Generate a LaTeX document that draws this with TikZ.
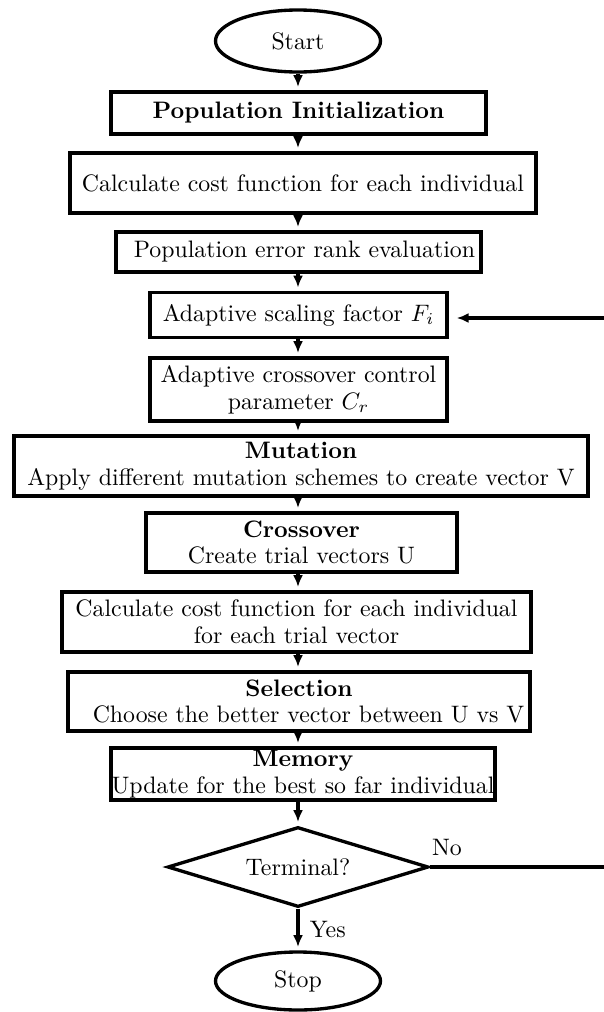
\documentclass[tikz,border=0pt]{standalone}
\usetikzlibrary{shapes.geometric,arrows.meta}

\begin{document}
\begin{tikzpicture}[
  x=0.42pt, y=-0.42pt,
  every node/.style={font=\fontsize{10}{11.2}\selectfont},
  procbox/.style={draw, line width=1.4pt, rectangle, inner sep=0pt, align=center},
  termnode/.style={draw, line width=1.4pt, ellipse, inner sep=0pt},
  decnode/.style={draw, line width=1.4pt, diamond, inner sep=0pt, aspect=3.26},
  arr/.style={line width=1.3pt, -{Latex[length=5pt,width=4.2pt]}, shorten >=1.4pt},
  plain/.style={line width=1.3pt}
]
\useasboundingbox (0,0) rectangle (604,1012);

% flow axis
\coordinate (axis) at (298,0);

% terminals, process boxes and the decision
\node[termnode, minimum width={165*0.42pt}, minimum height={62*0.42pt}] (start) at (298,41) {Start};
\node[procbox, minimum width={375*0.42pt}, minimum height={42*0.42pt}] (init) at (298.5,113) {\bfseries Population Initialization};
\node[procbox, minimum width={466*0.42pt}, minimum height={60*0.42pt}] (cost) at (303,183) {Calculate cost function for each individual};
\node[procbox, minimum width={365*0.42pt}, minimum height={40*0.42pt}] (rank) at (298.5,252) {\hspace*{5pt}Population error rank evaluation};
\node[procbox, minimum width={297*0.42pt}, minimum height={45*0.42pt}] (scale) at (298.5,315) {Adaptive scaling factor $F_i$};
\node[procbox, minimum width={297*0.42pt}, minimum height={63*0.42pt}] (crctl) at (298.5,389.5) {Adaptive crossover control\\parameter $C_r$};
\node[procbox, minimum width={574*0.42pt}, minimum height={60*0.42pt}] (mut) at (301,466) {\bfseries Mutation\\Apply different mutation schemes to create vector V};
\node[procbox, minimum width={311*0.42pt}, minimum height={59*0.42pt}] (cross) at (301.5,542.5) {\bfseries Crossover\\Create trial vectors U};
\node[procbox, minimum width={469*0.42pt}, minimum height={60*0.42pt}] (trial) at (296.5,622) {Calculate cost function for each individual\\for each trial vector};
\node[procbox, minimum width={462*0.42pt}, minimum height={59*0.42pt}] (sel) at (299,701.5) {\bfseries Selection\\\hspace*{8pt}Choose the better vector between U vs V};
\node[procbox, minimum width={384*0.42pt}, minimum height={52*0.42pt}] (mem) at (303,774) {\bfseries Memory\\Update for the best so far individual};
\node[decnode, minimum width={261*0.42pt}, minimum height={80*0.42pt}] (dec) at (298,867) {Terminal?};
\node[termnode, minimum width={165*0.42pt}, minimum height={58*0.42pt}] (stop) at (298,981) {Stop};

% main flow
\draw[arr] (start.south) -- (init.north -| axis);
\draw[arr] (init.south -| axis) -- (cost.north -| axis);
\draw[arr] (cost.south -| axis) -- (rank.north -| axis);
\draw[arr] (rank.south -| axis) -- (scale.north -| axis);
\draw[arr] (scale.south -| axis) -- (crctl.north -| axis);
\draw[arr] (crctl.south -| axis) -- (mut.north -| axis);
\draw[arr] (mut.south -| axis) -- (cross.north -| axis);
\draw[arr] (cross.south -| axis) -- (trial.north -| axis);
\draw[arr] (trial.south -| axis) -- (sel.north -| axis);
\draw[arr] (sel.south -| axis) -- (mem.north -| axis);
\draw[arr] (mem.south -| axis) -- (dec.north);
\draw[arr] (dec.south) -- node[right, xshift=1pt] {Yes} (stop.north);

% loop back on "No"
\coordinate (noend) at (604,867);
\coordinate (loopin) at (604,318);
\draw[plain] (dec.east) -- (noend);
\node at (447,847) {No};
\draw[arr, shorten >=3.4pt] (loopin) -- (scale.east |- loopin);
\end{tikzpicture}
\end{document}
